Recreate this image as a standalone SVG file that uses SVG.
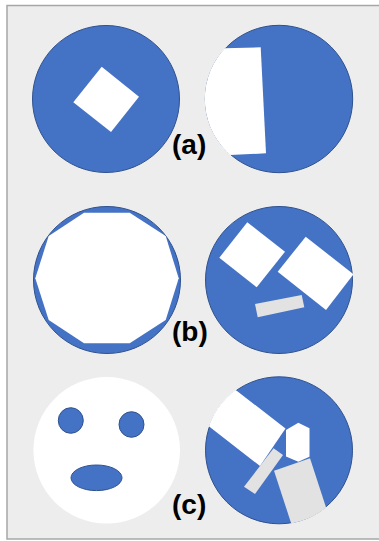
<svg xmlns="http://www.w3.org/2000/svg" width="379" height="541" viewBox="0 0 379 541">
<style>
.bg{fill:#ededed;stroke:#a6a6a6;stroke-width:1.5}
.disk{fill:#4472c4;stroke:#2f528f;stroke-width:1}
.hole{fill:#ffffff;stroke:none}
.grey{fill:#e2e2e2;stroke:none}
.feat{fill:#4472c4;stroke:#2f528f;stroke-width:1}
.lbl{font-family:"Liberation Sans",Arial,sans-serif;font-weight:bold;font-size:28px;fill:#000}
</style>
<defs>
<clipPath id="clipA"><circle cx="279" cy="99" r="74.2"/></clipPath>
<clipPath id="clipB"><circle cx="279" cy="280" r="74.2"/></clipPath>
<clipPath id="clipC"><circle cx="279" cy="450.3" r="74.2"/></clipPath>
</defs>
<rect width="379" height="541" fill="#ffffff"/>
<rect class="bg" x="7" y="5.5" width="400" height="533.5"/>

<g id="panel-a-left">
<circle class="disk" cx="106" cy="99" r="73.5"/>
<polygon class="hole" points="101.7,66.7 139,96.7 111,132 73.3,102.3"/>
</g>
<g id="panel-a-right">
<circle class="disk" cx="279" cy="99" r="73.7"/>
<polygon class="hole" clip-path="url(#clipA)" points="180,49.5 260.7,47.3 266,153.3 180,157.5"/>
</g>
<text id="label-a" class="lbl" x="172" y="154">(a)</text>

<g id="panel-b-left">
<circle class="disk" cx="107" cy="280" r="73.5"/>
<polygon class="hole" points="84,212.7 129.7,212.7 165.7,236 178.7,278.3 165.7,320 129.7,343.3 84,343.3 48.7,320 35.3,278.3 48.7,236"/>
</g>
<g id="panel-b-right">
<circle class="disk" cx="279" cy="280" r="73.5"/>
<g clip-path="url(#clipB)">
<polygon class="hole" points="247.3,222.3 285,251.7 256.7,287.3 219.3,257.7"/>
<polygon class="hole" points="305.7,236.7 353.5,274.3 326,310 277.7,271.7"/>
<polygon class="grey" points="255,304 301.7,295 304.3,307.3 257.7,317.3"/>
</g>
</g>
<text id="label-b" class="lbl" x="172" y="341">(b)</text>

<g id="panel-c-left">
<circle cx="106.7" cy="450.3" r="73.3" fill="#ffffff"/>
<ellipse class="feat" cx="70.8" cy="420.5" rx="12.5" ry="12.8"/>
<ellipse class="feat" cx="131.5" cy="424.5" rx="12.5" ry="12.8"/>
<ellipse class="feat" cx="96.5" cy="477.8" rx="25.5" ry="12.8"/>
</g>
<g id="panel-c-right">
<circle class="disk" cx="279" cy="450.3" r="73.5"/>
<g clip-path="url(#clipC)">
<polygon class="hole" points="206.5,367.3 285.5,428.5 260,466 181,404.8"/>
<polygon class="hole" points="298.3,422.7 309.5,428.3 309.5,456.7 298.3,461.7 286,456.5 286,430"/>
<polygon class="grey" points="274,470.7 310,458.3 341,553.3 305,565.7"/>
<polygon class="grey" points="273.6,448.3 283,455 255,494 244,486.7"/>
</g>
</g>
<text id="label-c" class="lbl" x="172" y="514">(c)</text>
</svg>
